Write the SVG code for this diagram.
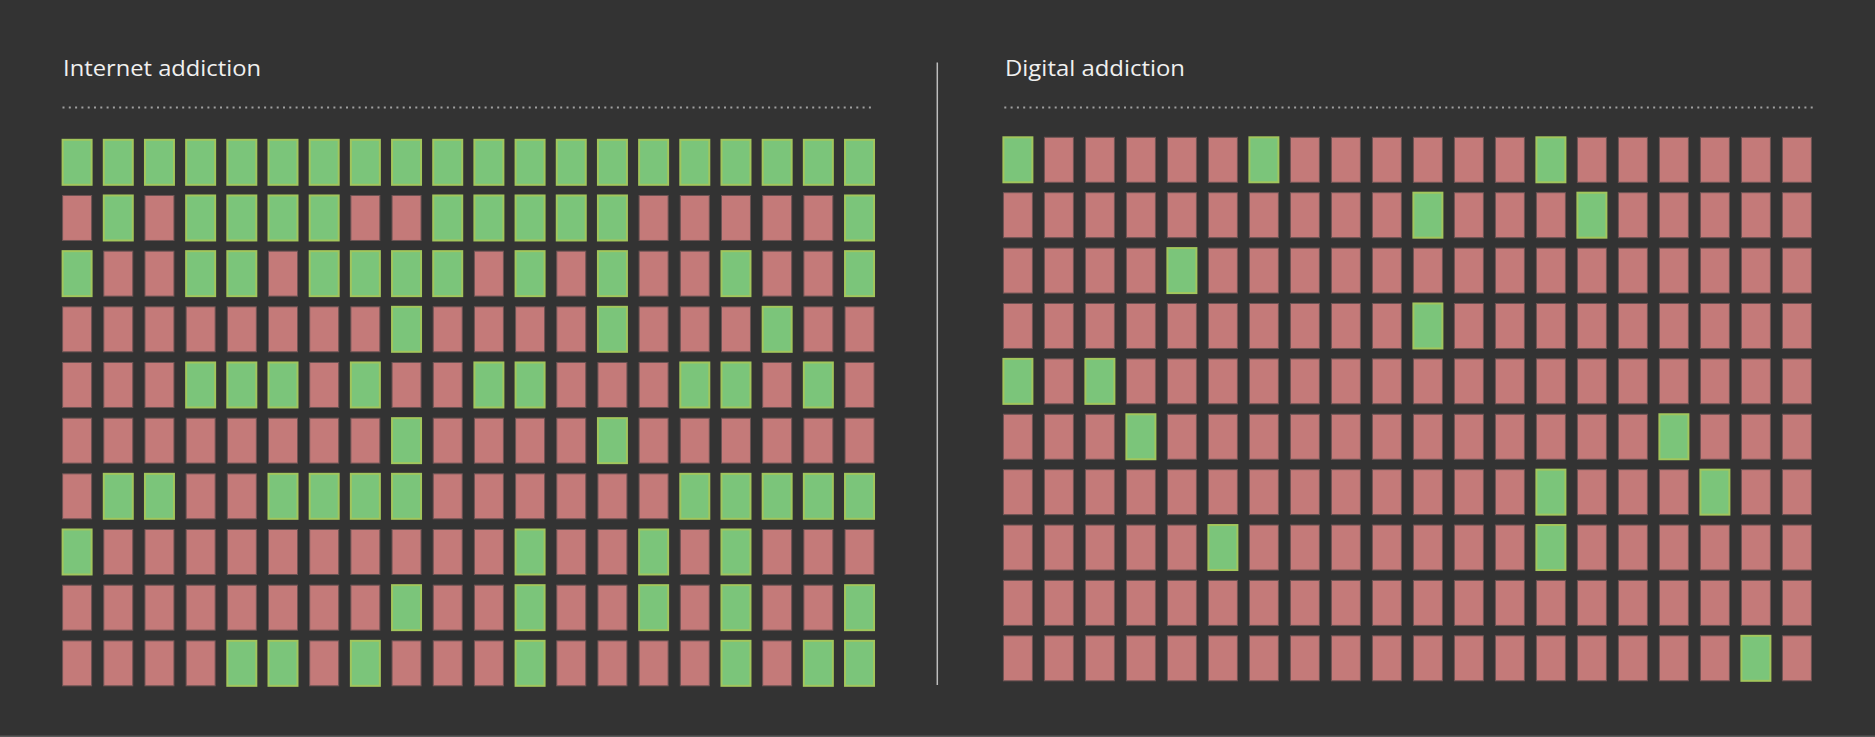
<svg xmlns="http://www.w3.org/2000/svg" xmlns:xlink="http://www.w3.org/1999/xlink" width="1875" height="737" viewBox="0 0 1875 737">
<style>
.bg{fill:#333333}
.title{font-family:"Open Sans","Lato",sans-serif;font-size:22px;font-weight:400;fill:#f0f0f0}
.dots{stroke:#a0a0a0;stroke-width:2;stroke-dasharray:2 4.3;fill:none}
.divider{stroke:#bdbdbd;stroke-width:1.5}
.cg{fill:#7bc57a;stroke:#a2c65c;stroke-width:2}
.cr{fill:#c47a79;stroke:#6e5454;stroke-width:1}
</style>
<defs>
<rect id="G" class="cg" width="29" height="45"/>
<rect id="R" class="cr" width="29" height="45"/>
</defs>
<rect class="bg" x="0" y="0" width="1875" height="737"/>
<rect x="0" y="735.5" width="1875" height="1.5" fill="#5a5a5a"/>
<line class="divider" x1="937.3" y1="62.5" x2="937.3" y2="685"/>

<g id="panel-internet">
<text class="title" x="63" y="76" textLength="198" lengthAdjust="spacingAndGlyphs">Internet addiction</text>
<line class="dots" x1="62.5" y1="107.5" x2="873" y2="107.5"/>
<g id="internet-row1" transform="translate(0,139.8)">
<use href="#G" x="62.6"/><use href="#G" x="103.78"/><use href="#G" x="144.96"/><use href="#G" x="186.14"/><use href="#G" x="227.32"/><use href="#G" x="268.5"/><use href="#G" x="309.68"/><use href="#G" x="350.86"/><use href="#G" x="392.04"/><use href="#G" x="433.22"/><use href="#G" x="474.4"/><use href="#G" x="515.58"/><use href="#G" x="556.76"/><use href="#G" x="597.94"/><use href="#G" x="639.12"/><use href="#G" x="680.3"/><use href="#G" x="721.48"/><use href="#G" x="762.66"/><use href="#G" x="803.84"/><use href="#G" x="845.02"/>
</g>
<g id="internet-row2" transform="translate(0,195.47)">
<use href="#R" x="62.6"/><use href="#G" x="103.78"/><use href="#R" x="144.96"/><use href="#G" x="186.14"/><use href="#G" x="227.32"/><use href="#G" x="268.5"/><use href="#G" x="309.68"/><use href="#R" x="350.86"/><use href="#R" x="392.04"/><use href="#G" x="433.22"/><use href="#G" x="474.4"/><use href="#G" x="515.58"/><use href="#G" x="556.76"/><use href="#G" x="597.94"/><use href="#R" x="639.12"/><use href="#R" x="680.3"/><use href="#R" x="721.48"/><use href="#R" x="762.66"/><use href="#R" x="803.84"/><use href="#G" x="845.02"/>
</g>
<g id="internet-row3" transform="translate(0,251.14)">
<use href="#G" x="62.6"/><use href="#R" x="103.78"/><use href="#R" x="144.96"/><use href="#G" x="186.14"/><use href="#G" x="227.32"/><use href="#R" x="268.5"/><use href="#G" x="309.68"/><use href="#G" x="350.86"/><use href="#G" x="392.04"/><use href="#G" x="433.22"/><use href="#R" x="474.4"/><use href="#G" x="515.58"/><use href="#R" x="556.76"/><use href="#G" x="597.94"/><use href="#R" x="639.12"/><use href="#R" x="680.3"/><use href="#G" x="721.48"/><use href="#R" x="762.66"/><use href="#R" x="803.84"/><use href="#G" x="845.02"/>
</g>
<g id="internet-row4" transform="translate(0,306.81)">
<use href="#R" x="62.6"/><use href="#R" x="103.78"/><use href="#R" x="144.96"/><use href="#R" x="186.14"/><use href="#R" x="227.32"/><use href="#R" x="268.5"/><use href="#R" x="309.68"/><use href="#R" x="350.86"/><use href="#G" x="392.04"/><use href="#R" x="433.22"/><use href="#R" x="474.4"/><use href="#R" x="515.58"/><use href="#R" x="556.76"/><use href="#G" x="597.94"/><use href="#R" x="639.12"/><use href="#R" x="680.3"/><use href="#R" x="721.48"/><use href="#G" x="762.66"/><use href="#R" x="803.84"/><use href="#R" x="845.02"/>
</g>
<g id="internet-row5" transform="translate(0,362.48)">
<use href="#R" x="62.6"/><use href="#R" x="103.78"/><use href="#R" x="144.96"/><use href="#G" x="186.14"/><use href="#G" x="227.32"/><use href="#G" x="268.5"/><use href="#R" x="309.68"/><use href="#G" x="350.86"/><use href="#R" x="392.04"/><use href="#R" x="433.22"/><use href="#G" x="474.4"/><use href="#G" x="515.58"/><use href="#R" x="556.76"/><use href="#R" x="597.94"/><use href="#R" x="639.12"/><use href="#G" x="680.3"/><use href="#G" x="721.48"/><use href="#R" x="762.66"/><use href="#G" x="803.84"/><use href="#R" x="845.02"/>
</g>
<g id="internet-row6" transform="translate(0,418.15)">
<use href="#R" x="62.6"/><use href="#R" x="103.78"/><use href="#R" x="144.96"/><use href="#R" x="186.14"/><use href="#R" x="227.32"/><use href="#R" x="268.5"/><use href="#R" x="309.68"/><use href="#R" x="350.86"/><use href="#G" x="392.04"/><use href="#R" x="433.22"/><use href="#R" x="474.4"/><use href="#R" x="515.58"/><use href="#R" x="556.76"/><use href="#G" x="597.94"/><use href="#R" x="639.12"/><use href="#R" x="680.3"/><use href="#R" x="721.48"/><use href="#R" x="762.66"/><use href="#R" x="803.84"/><use href="#R" x="845.02"/>
</g>
<g id="internet-row7" transform="translate(0,473.82)">
<use href="#R" x="62.6"/><use href="#G" x="103.78"/><use href="#G" x="144.96"/><use href="#R" x="186.14"/><use href="#R" x="227.32"/><use href="#G" x="268.5"/><use href="#G" x="309.68"/><use href="#G" x="350.86"/><use href="#G" x="392.04"/><use href="#R" x="433.22"/><use href="#R" x="474.4"/><use href="#R" x="515.58"/><use href="#R" x="556.76"/><use href="#R" x="597.94"/><use href="#R" x="639.12"/><use href="#G" x="680.3"/><use href="#G" x="721.48"/><use href="#G" x="762.66"/><use href="#G" x="803.84"/><use href="#G" x="845.02"/>
</g>
<g id="internet-row8" transform="translate(0,529.49)">
<use href="#G" x="62.6"/><use href="#R" x="103.78"/><use href="#R" x="144.96"/><use href="#R" x="186.14"/><use href="#R" x="227.32"/><use href="#R" x="268.5"/><use href="#R" x="309.68"/><use href="#R" x="350.86"/><use href="#R" x="392.04"/><use href="#R" x="433.22"/><use href="#R" x="474.4"/><use href="#G" x="515.58"/><use href="#R" x="556.76"/><use href="#R" x="597.94"/><use href="#G" x="639.12"/><use href="#R" x="680.3"/><use href="#G" x="721.48"/><use href="#R" x="762.66"/><use href="#R" x="803.84"/><use href="#R" x="845.02"/>
</g>
<g id="internet-row9" transform="translate(0,585.16)">
<use href="#R" x="62.6"/><use href="#R" x="103.78"/><use href="#R" x="144.96"/><use href="#R" x="186.14"/><use href="#R" x="227.32"/><use href="#R" x="268.5"/><use href="#R" x="309.68"/><use href="#R" x="350.86"/><use href="#G" x="392.04"/><use href="#R" x="433.22"/><use href="#R" x="474.4"/><use href="#G" x="515.58"/><use href="#R" x="556.76"/><use href="#R" x="597.94"/><use href="#G" x="639.12"/><use href="#R" x="680.3"/><use href="#G" x="721.48"/><use href="#R" x="762.66"/><use href="#R" x="803.84"/><use href="#G" x="845.02"/>
</g>
<g id="internet-row10" transform="translate(0,640.83)">
<use href="#R" x="62.6"/><use href="#R" x="103.78"/><use href="#R" x="144.96"/><use href="#R" x="186.14"/><use href="#G" x="227.32"/><use href="#G" x="268.5"/><use href="#R" x="309.68"/><use href="#G" x="350.86"/><use href="#R" x="392.04"/><use href="#R" x="433.22"/><use href="#R" x="474.4"/><use href="#G" x="515.58"/><use href="#R" x="556.76"/><use href="#R" x="597.94"/><use href="#R" x="639.12"/><use href="#R" x="680.3"/><use href="#G" x="721.48"/><use href="#R" x="762.66"/><use href="#G" x="803.84"/><use href="#G" x="845.02"/>
</g>
</g>

<g id="panel-digital">
<text class="title" x="1005" y="76" textLength="180" lengthAdjust="spacingAndGlyphs">Digital addiction</text>
<line class="dots" x1="1004.3" y1="107.5" x2="1813" y2="107.5"/>
<g id="digital-row1" transform="translate(0,137.3)">
<use href="#G" x="1003.4"/><use href="#R" x="1044.4"/><use href="#R" x="1085.4"/><use href="#R" x="1126.4"/><use href="#R" x="1167.4"/><use href="#R" x="1208.4"/><use href="#G" x="1249.4"/><use href="#R" x="1290.4"/><use href="#R" x="1331.4"/><use href="#R" x="1372.4"/><use href="#R" x="1413.4"/><use href="#R" x="1454.4"/><use href="#R" x="1495.4"/><use href="#G" x="1536.4"/><use href="#R" x="1577.4"/><use href="#R" x="1618.4"/><use href="#R" x="1659.4"/><use href="#R" x="1700.4"/><use href="#R" x="1741.4"/><use href="#R" x="1782.4"/>
</g>
<g id="digital-row2" transform="translate(0,192.69)">
<use href="#R" x="1003.4"/><use href="#R" x="1044.4"/><use href="#R" x="1085.4"/><use href="#R" x="1126.4"/><use href="#R" x="1167.4"/><use href="#R" x="1208.4"/><use href="#R" x="1249.4"/><use href="#R" x="1290.4"/><use href="#R" x="1331.4"/><use href="#R" x="1372.4"/><use href="#G" x="1413.4"/><use href="#R" x="1454.4"/><use href="#R" x="1495.4"/><use href="#R" x="1536.4"/><use href="#G" x="1577.4"/><use href="#R" x="1618.4"/><use href="#R" x="1659.4"/><use href="#R" x="1700.4"/><use href="#R" x="1741.4"/><use href="#R" x="1782.4"/>
</g>
<g id="digital-row3" transform="translate(0,248.08)">
<use href="#R" x="1003.4"/><use href="#R" x="1044.4"/><use href="#R" x="1085.4"/><use href="#R" x="1126.4"/><use href="#G" x="1167.4"/><use href="#R" x="1208.4"/><use href="#R" x="1249.4"/><use href="#R" x="1290.4"/><use href="#R" x="1331.4"/><use href="#R" x="1372.4"/><use href="#R" x="1413.4"/><use href="#R" x="1454.4"/><use href="#R" x="1495.4"/><use href="#R" x="1536.4"/><use href="#R" x="1577.4"/><use href="#R" x="1618.4"/><use href="#R" x="1659.4"/><use href="#R" x="1700.4"/><use href="#R" x="1741.4"/><use href="#R" x="1782.4"/>
</g>
<g id="digital-row4" transform="translate(0,303.47)">
<use href="#R" x="1003.4"/><use href="#R" x="1044.4"/><use href="#R" x="1085.4"/><use href="#R" x="1126.4"/><use href="#R" x="1167.4"/><use href="#R" x="1208.4"/><use href="#R" x="1249.4"/><use href="#R" x="1290.4"/><use href="#R" x="1331.4"/><use href="#R" x="1372.4"/><use href="#G" x="1413.4"/><use href="#R" x="1454.4"/><use href="#R" x="1495.4"/><use href="#R" x="1536.4"/><use href="#R" x="1577.4"/><use href="#R" x="1618.4"/><use href="#R" x="1659.4"/><use href="#R" x="1700.4"/><use href="#R" x="1741.4"/><use href="#R" x="1782.4"/>
</g>
<g id="digital-row5" transform="translate(0,358.86)">
<use href="#G" x="1003.4"/><use href="#R" x="1044.4"/><use href="#G" x="1085.4"/><use href="#R" x="1126.4"/><use href="#R" x="1167.4"/><use href="#R" x="1208.4"/><use href="#R" x="1249.4"/><use href="#R" x="1290.4"/><use href="#R" x="1331.4"/><use href="#R" x="1372.4"/><use href="#R" x="1413.4"/><use href="#R" x="1454.4"/><use href="#R" x="1495.4"/><use href="#R" x="1536.4"/><use href="#R" x="1577.4"/><use href="#R" x="1618.4"/><use href="#R" x="1659.4"/><use href="#R" x="1700.4"/><use href="#R" x="1741.4"/><use href="#R" x="1782.4"/>
</g>
<g id="digital-row6" transform="translate(0,414.25)">
<use href="#R" x="1003.4"/><use href="#R" x="1044.4"/><use href="#R" x="1085.4"/><use href="#G" x="1126.4"/><use href="#R" x="1167.4"/><use href="#R" x="1208.4"/><use href="#R" x="1249.4"/><use href="#R" x="1290.4"/><use href="#R" x="1331.4"/><use href="#R" x="1372.4"/><use href="#R" x="1413.4"/><use href="#R" x="1454.4"/><use href="#R" x="1495.4"/><use href="#R" x="1536.4"/><use href="#R" x="1577.4"/><use href="#R" x="1618.4"/><use href="#G" x="1659.4"/><use href="#R" x="1700.4"/><use href="#R" x="1741.4"/><use href="#R" x="1782.4"/>
</g>
<g id="digital-row7" transform="translate(0,469.64)">
<use href="#R" x="1003.4"/><use href="#R" x="1044.4"/><use href="#R" x="1085.4"/><use href="#R" x="1126.4"/><use href="#R" x="1167.4"/><use href="#R" x="1208.4"/><use href="#R" x="1249.4"/><use href="#R" x="1290.4"/><use href="#R" x="1331.4"/><use href="#R" x="1372.4"/><use href="#R" x="1413.4"/><use href="#R" x="1454.4"/><use href="#R" x="1495.4"/><use href="#G" x="1536.4"/><use href="#R" x="1577.4"/><use href="#R" x="1618.4"/><use href="#R" x="1659.4"/><use href="#G" x="1700.4"/><use href="#R" x="1741.4"/><use href="#R" x="1782.4"/>
</g>
<g id="digital-row8" transform="translate(0,525.03)">
<use href="#R" x="1003.4"/><use href="#R" x="1044.4"/><use href="#R" x="1085.4"/><use href="#R" x="1126.4"/><use href="#R" x="1167.4"/><use href="#G" x="1208.4"/><use href="#R" x="1249.4"/><use href="#R" x="1290.4"/><use href="#R" x="1331.4"/><use href="#R" x="1372.4"/><use href="#R" x="1413.4"/><use href="#R" x="1454.4"/><use href="#R" x="1495.4"/><use href="#G" x="1536.4"/><use href="#R" x="1577.4"/><use href="#R" x="1618.4"/><use href="#R" x="1659.4"/><use href="#R" x="1700.4"/><use href="#R" x="1741.4"/><use href="#R" x="1782.4"/>
</g>
<g id="digital-row9" transform="translate(0,580.42)">
<use href="#R" x="1003.4"/><use href="#R" x="1044.4"/><use href="#R" x="1085.4"/><use href="#R" x="1126.4"/><use href="#R" x="1167.4"/><use href="#R" x="1208.4"/><use href="#R" x="1249.4"/><use href="#R" x="1290.4"/><use href="#R" x="1331.4"/><use href="#R" x="1372.4"/><use href="#R" x="1413.4"/><use href="#R" x="1454.4"/><use href="#R" x="1495.4"/><use href="#R" x="1536.4"/><use href="#R" x="1577.4"/><use href="#R" x="1618.4"/><use href="#R" x="1659.4"/><use href="#R" x="1700.4"/><use href="#R" x="1741.4"/><use href="#R" x="1782.4"/>
</g>
<g id="digital-row10" transform="translate(0,635.81)">
<use href="#R" x="1003.4"/><use href="#R" x="1044.4"/><use href="#R" x="1085.4"/><use href="#R" x="1126.4"/><use href="#R" x="1167.4"/><use href="#R" x="1208.4"/><use href="#R" x="1249.4"/><use href="#R" x="1290.4"/><use href="#R" x="1331.4"/><use href="#R" x="1372.4"/><use href="#R" x="1413.4"/><use href="#R" x="1454.4"/><use href="#R" x="1495.4"/><use href="#R" x="1536.4"/><use href="#R" x="1577.4"/><use href="#R" x="1618.4"/><use href="#R" x="1659.4"/><use href="#R" x="1700.4"/><use href="#G" x="1741.4"/><use href="#R" x="1782.4"/>
</g>
</g>
</svg>
